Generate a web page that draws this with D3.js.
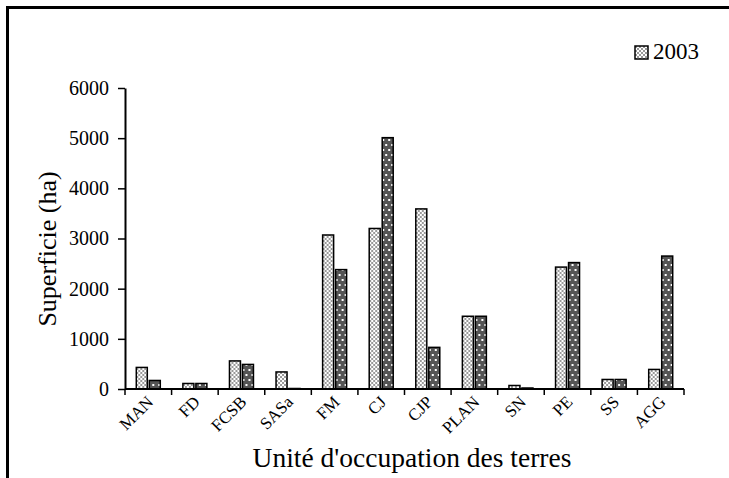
<!DOCTYPE html>
<html>
<head>
<meta charset="utf-8">
<script src="https://cdn.jsdelivr.net/npm/d3@7"></script>
<style>
  body { margin: 0; background: #fff; }
  svg text { font-family: "Liberation Serif", "Times New Roman", Times, serif; fill: #000; }
</style>
</head>
<body>
<svg id="chart" width="729" height="478"></svg>
<script>
var categories = ["MAN", "FD", "FCSB", "SASa", "FM", "CJ", "CJP", "PLAN", "SN", "PE", "SS", "AGG"];
var valuesA = [430, 110, 560, 340, 3070, 3200, 3590, 1450, 70, 2430, 190, 390];
var valuesB = [170, 110, 490, 10, 2380, 5010, 830, 1450, 20, 2520, 190, 2650];
var yTicks = [0, 1000, 2000, 3000, 4000, 5000, 6000];
var legendLabel = "2003";

var svg = d3.select("#chart"),
    margin = {top: 88, right: 45, bottom: 89, left: 125},
    width = svg.attr("width") - margin.left - margin.right,
    height = svg.attr("height") - margin.top - margin.bottom;

// patterns
var defs = svg.append("defs");
var pa = defs.append("pattern")
    .attr("id", "checker")
    .attr("patternUnits", "userSpaceOnUse")
    .attr("width", 4).attr("height", 4);
pa.append("rect").attr("width", 4).attr("height", 4).attr("fill", "#fff");
pa.append("rect").attr("width", 2).attr("height", 2).attr("fill", "#999");
pa.append("rect").attr("x", 2).attr("y", 2).attr("width", 2).attr("height", 2).attr("fill", "#999");

var pb = defs.append("pattern")
    .attr("id", "dots")
    .attr("patternUnits", "userSpaceOnUse")
    .attr("width", 6).attr("height", 10);
pb.append("rect").attr("width", 6).attr("height", 10).attr("fill", "#555");
pb.append("rect").attr("x", 1).attr("y", 1).attr("width", 2).attr("height", 2).attr("fill", "#fff");
pb.append("rect").attr("x", 4).attr("y", 6).attr("width", 2).attr("height", 2).attr("fill", "#fff");

// frame (only top and left edges visible)
svg.append("path")
    .attr("d", "M7.5,478 L7.5,7.5 L729,7.5")
    .attr("fill", "none")
    .attr("stroke", "#000")
    .attr("stroke-width", 3);

var g = svg.append("g").attr("transform", "translate(" + margin.left + "," + margin.top + ")");

var x = d3.scaleBand().domain(categories).range([0, width]).padding(0);
var y = d3.scaleLinear().domain([0, 6000]).range([height, 0]);

var barW = 11, gap = 2;

var grp = g.selectAll(".cat")
    .data(categories)
    .enter().append("g")
      .attr("class", "cat")
      .attr("transform", function(d) { return "translate(" + (x(d) + x.bandwidth() / 2) + ",0)"; });

grp.append("rect")
    .attr("x", -barW - gap / 2)
    .attr("width", barW)
    .attr("y", function(d, i) { return y(valuesA[i]); })
    .attr("height", function(d, i) { return height - y(valuesA[i]); })
    .attr("fill", "url(#checker)")
    .attr("stroke", "#000")
    .attr("stroke-width", 1.5);

grp.append("rect")
    .attr("x", gap / 2)
    .attr("width", barW)
    .attr("y", function(d, i) { return y(valuesB[i]); })
    .attr("height", function(d, i) { return height - y(valuesB[i]); })
    .attr("fill", "url(#dots)")
    .attr("stroke", "#000")
    .attr("stroke-width", 1.5);

// y axis
var yAxis = g.append("g")
    .call(d3.axisLeft(y).tickValues(yTicks).tickFormat(d3.format("d"))
      .tickSize(7).tickSizeOuter(0).tickPadding(9));
yAxis.attr("font-family", null);
yAxis.select(".domain").attr("stroke-width", 2);
yAxis.selectAll(".tick line").attr("stroke-width", 1.5);
yAxis.selectAll("text").style("font-size", "20px").attr("fill", "#000");

// x axis with ticks at category boundaries
var xAxis = g.append("g").attr("transform", "translate(0," + height + ")");
xAxis.append("line")
    .attr("x1", 0).attr("x2", width)
    .attr("stroke", "#000").attr("stroke-width", 2);
var bounds = d3.range(categories.length + 1).map(function(i) { return i * x.step(); });
xAxis.selectAll(".bt")
    .data(bounds)
    .enter().append("line")
      .attr("x1", function(d) { return d; })
      .attr("x2", function(d) { return d; })
      .attr("y1", 0).attr("y2", 6)
      .attr("stroke", "#000").attr("stroke-width", 1.5);

// rotated category labels: anchor group, then rotate the text itself
var lab = xAxis.selectAll(".xl")
    .data(categories)
    .enter().append("g")
      .attr("class", "xl")
      .attr("transform", function(d) { return "translate(" + (x(d) + x.bandwidth() / 2 + 6) + ",14)"; });
lab.append("text")
    .attr("text-anchor", "end")
    .attr("transform", "rotate(-45)")
    .style("font-size", "17px")
    .text(function(d) { return d; });

// axis titles
svg.append("text")
    .attr("transform", "translate(56,249) rotate(-90)")
    .attr("text-anchor", "middle")
    .style("font-size", "26px")
    .text("Superficie (ha)");

svg.append("text")
    .attr("x", 412)
    .attr("y", 467)
    .attr("text-anchor", "middle")
    .style("font-size", "27.5px")
    .text("Unité d'occupation des terres");

// legend
var lg = svg.append("g").attr("transform", "translate(635,46)");
lg.append("rect")
    .attr("width", 13).attr("height", 13)
    .attr("fill", "url(#checker)")
    .attr("stroke", "#000").attr("stroke-width", 1.5);
lg.append("text")
    .attr("x", 18).attr("y", 13)
    .style("font-size", "23px")
    .text(legendLabel);
</script>
</body>
</html>
